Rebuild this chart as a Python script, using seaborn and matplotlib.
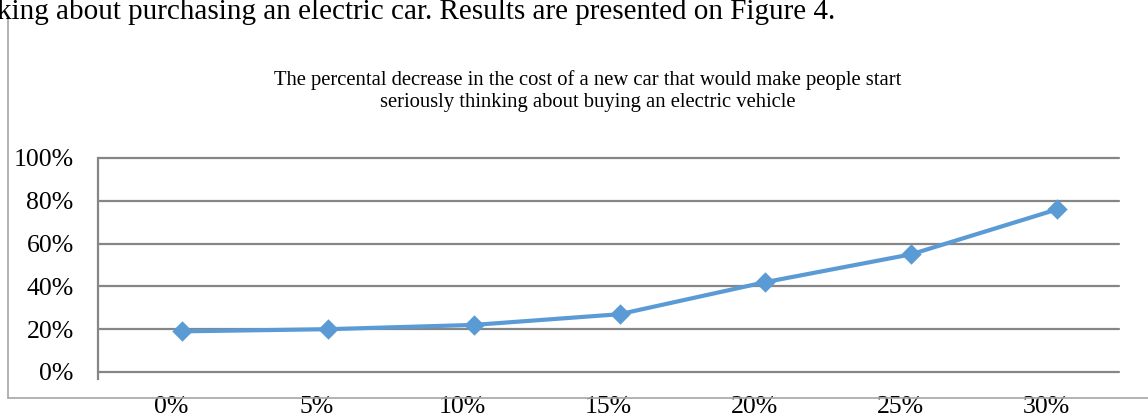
import matplotlib
matplotlib.use("Agg")
import matplotlib.pyplot as plt
import matplotlib.transforms as mtransforms
from matplotlib.lines import Line2D
from matplotlib.ticker import FuncFormatter
import seaborn as sns
import pandas as pd

# ---- data ----
categories = ["0%", "5%", "10%", "15%", "20%", "25%", "30%"]
share = [0.19, 0.20, 0.22, 0.27, 0.42, 0.55, 0.76]
y_ticks = [0.0, 0.2, 0.4, 0.6, 0.8, 1.0]
title = ("The percental decrease in the cost of a new car that would make people start\n"
         "seriously thinking about buying an electric vehicle")
top_text = "king about purchasing an electric car. Results are presented on Figure 4."

sns.set_theme(style="white")
plt.rcParams["font.family"] = ["Liberation Serif", "DejaVu Serif"]

W, H, DPI = 1148, 417, 100
fig = plt.figure(figsize=(W / DPI, H / DPI), dpi=DPI)
fig.patch.set_facecolor("white")

left_px, right_px, top_px, bot_px = 98, 1119, 158, 372
ax = fig.add_axes([left_px / W, (H - bot_px) / H,
                   (right_px - left_px) / W, (bot_px - top_px) / H])
ax.set_facecolor("white")

df = pd.DataFrame({"cat": pd.Categorical(categories, categories=categories, ordered=True),
                   "val": share})
sns.pointplot(data=df, x="cat", y="val", ax=ax, color="#5b9bd5",
              markers="D", linestyles="-", linewidth=3, markersize=8,
              errorbar=None)

# slight horizontal shift of the series as seen in the reference rendering
shift = mtransforms.ScaledTranslation(11 / DPI, 0, fig.dpi_scale_trans)
for ln in ax.lines:
    ln.set_transform(ln.get_transform() + shift)
    ln.set_zorder(5)
for coll in ax.collections:
    coll.set_transform(coll.get_transform() + shift)

ax.set_xlim(-0.5, len(categories) - 0.5)
ax.set_ylim(0, 1)
ax.set_yticks(y_ticks)
ax.yaxis.set_major_formatter(FuncFormatter(lambda v, p: f"{v * 100:.0f}%"))
ax.set_xlabel("")
ax.set_ylabel("")

ax.grid(axis="y", color="#868686", linewidth=1.6)
ax.grid(axis="x", visible=False)
ax.set_axisbelow(True)
for gl in ax.get_ygridlines():
    gl.set_clip_on(False)

for s in ["top", "right", "bottom"]:
    ax.spines[s].set_visible(False)
ax.spines["left"].set_color("#868686")
ax.spines["left"].set_linewidth(1.6)
ax.spines["left"].set_bounds(-0.033, 1.0)

ax.tick_params(axis="y", length=0, pad=17.5, labelsize=18.5, labelcolor="black")
ax.tick_params(axis="x", length=0, pad=17, labelsize=18.5, labelcolor="black")

# title
fig.text(588 / W, (H - 91) / H, title, ha="center", va="center",
         fontsize=14.9, color="black", linespacing=1.22, multialignment="center")

# cut-off body text at top
fig.text(-3 / W, (H - 12) / H, top_text, ha="left", va="center",
         fontsize=21, color="black")

# chart frame (partially visible)
fig.add_artist(Line2D([8 / W, 8 / W], [(H - 18) / H, (H - 398) / H],
                      transform=fig.transFigure, color="#a6a6a6", linewidth=1.2))
fig.add_artist(Line2D([8 / W, 1.0], [(H - 398) / H, (H - 398) / H],
                      transform=fig.transFigure, color="#a6a6a6", linewidth=1.2))

fig.savefig("out.png", dpi=DPI, facecolor="white")
